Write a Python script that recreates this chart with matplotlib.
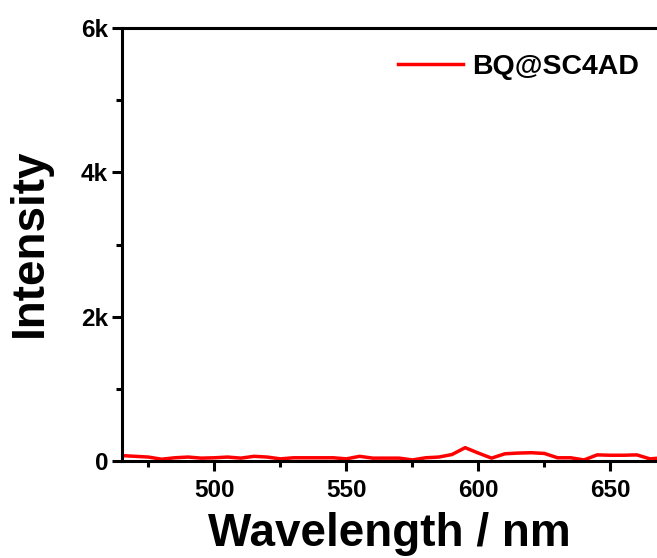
import matplotlib
matplotlib.use("Agg")
import matplotlib.pyplot as plt
from matplotlib.ticker import MultipleLocator, FuncFormatter

plt.rcParams['font.family'] = ['Liberation Sans', 'DejaVu Sans']
plt.rcParams['font.weight'] = 'bold'

# spectrum
wavelength = [465, 470, 475, 480, 485, 490, 495, 500, 505, 510, 515, 520, 525, 530,
              535, 540, 545, 550, 555, 560, 565, 570, 575, 580, 585, 590, 595, 600,
              605, 610, 615, 620, 625, 630, 635, 640, 645, 650, 655, 660, 665, 670]
intensity = [75, 65, 55, 25, 45, 55, 40, 45, 55, 40, 65, 55, 30, 45,
             45, 45, 45, 30, 65, 40, 40, 40, 15, 45, 55, 90, 185, 110,
             40, 100, 110, 115, 105, 45, 45, 15, 85, 80, 80, 85, 30, 45]
series_name = "BQ@SC4AD"

fig = plt.figure(figsize=(6.57, 5.58), dpi=100)
ax = fig.add_axes([0.1857, 0.1738, 0.8237, 0.776])

ax.plot(wavelength, intensity, color='#ff0000', lw=2.5, label=series_name)

ax.set_xlim(465, 670)
ax.set_ylim(0, 6000)
ax.xaxis.set_major_locator(MultipleLocator(50))
ax.xaxis.set_minor_locator(MultipleLocator(25))
ax.yaxis.set_major_locator(MultipleLocator(2000))
ax.yaxis.set_minor_locator(MultipleLocator(1000))
ax.yaxis.set_major_formatter(FuncFormatter(lambda v, p: "0" if v == 0 else "%dk" % (v / 1000)))

for s in ax.spines.values():
    s.set_linewidth(2.2)
ax.tick_params(which='major', direction='out', length=7, width=2.2, labelsize=17.5)
ax.tick_params(axis='x', which='major', pad=6)
ax.tick_params(axis='y', which='major', pad=3)
ax.tick_params(which='minor', direction='out', length=4, width=2.2)

ax.set_xlabel("Wavelength / nm", fontsize=33, fontweight='bold')
ax.xaxis.set_label_coords(389 / 657, 1 - 556 / 558, transform=fig.transFigure)
ax.xaxis.label.set_va('bottom')
ax.set_ylabel("Intensity", fontsize=33, fontweight='bold')
ax.yaxis.set_label_coords(30 / 657, 1 - 243 / 558, transform=fig.transFigure)
ax.yaxis.label.set_va('center')

ax.legend(loc='center left', bbox_to_anchor=(398 / 657, 1 - 67 / 558),
          bbox_transform=fig.transFigure, frameon=False, fontsize=20.5,
          handlelength=2.28, handletextpad=0.32, borderpad=0, borderaxespad=0)

fig.savefig("out.png", dpi=100)
